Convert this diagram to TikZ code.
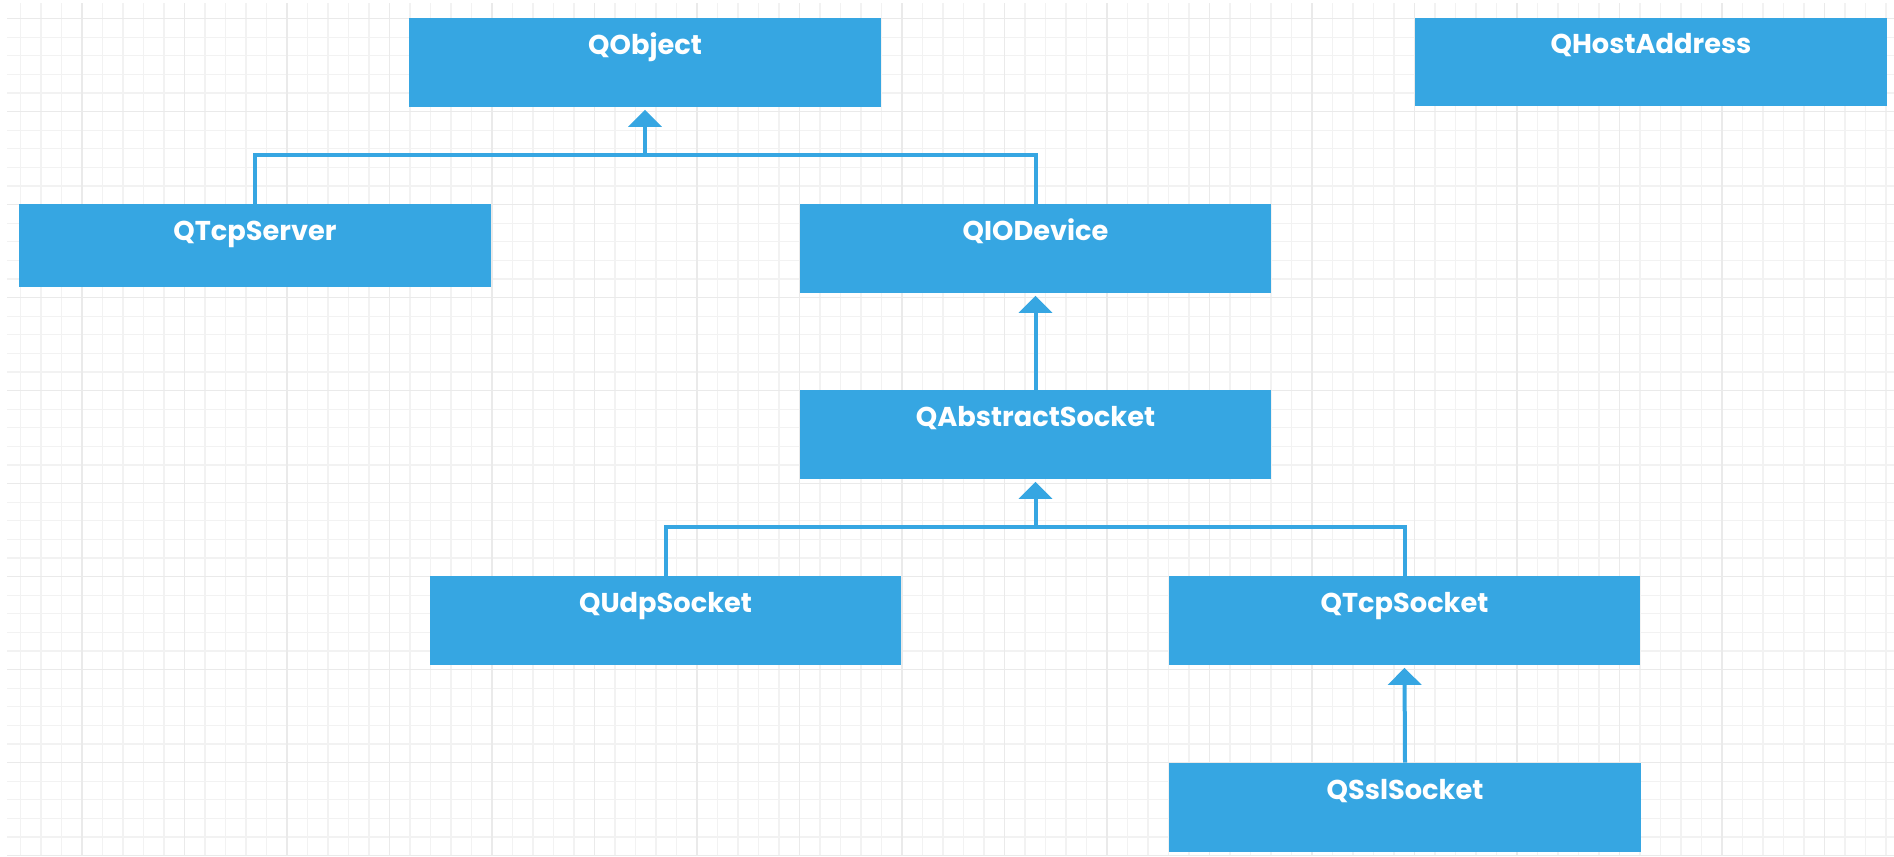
\documentclass[tikz,border=0pt]{standalone}
\usepackage{fontspec}
\setsansfont{Poppins}
\usetikzlibrary{arrows.meta}

\definecolor{qtblue}{RGB}{54,166,226}
\definecolor{gridgray}{RGB}{242,242,242}
\definecolor{gridmajor}{RGB}{234,234,234}

\tikzset{
	cls/.style={fill=qtblue, text=white, inner sep=0pt, minimum width=9.44cm,
		font=\sffamily\bfseries\fontsize{15.5}{17}\selectfont,
		text height=0.72cm, text depth=1.06cm},
	clsshort/.style={cls, text depth=0.94cm},
	link/.style={draw=qtblue, line width=0.08cm},
	inherit/.style={link, -{Triangle[length=0.34cm, width=0.66cm]}, shorten >=0.05cm},
	gridline/.style={draw=gridgray, line width=0.6pt},
	gridbold/.style={draw=gridmajor, line width=0.7pt}
}

\begin{document}
\begin{tikzpicture}[x=0.02cm, y=-0.02cm]
			%%%%% START %%%%%
			
			\useasboundingbox (0, 0) rectangle (1894, 856);
			\fill[white] (0, 0) rectangle (1894, 856);
			
			% background grid
			\foreach \k in {1,...,92}
				\draw[gridline] (20.5*\k, 3) -- (20.5*\k, 856);
			\foreach \k in {1,...,46}
				\draw[gridline] (7, 18.6*\k) -- (1894, 18.6*\k);
			\foreach \k in {4,9,...,89}
				\draw[gridbold] (20.5*\k, 3) -- (20.5*\k, 856);
			\foreach \k in {1,6,...,46}
				\draw[gridbold] (7, 18.6*\k) -- (1894, 18.6*\k);
			
			% classes
			\node[cls] (qobject) at (645, 62.5) {QObject};
			\node[cls] (qhostaddress) at (1651, 62) {QHostAddress};
			\node[clsshort] (qtcpserver) at (255, 245.5) {QTcpServer};
			\node[cls] (qiodevice) at (1035.5, 248.5) {QIODevice};
			\node[cls] (qabstractsocket) at (1035.5, 434.5) {QAbstractSocket};
			\node[cls] (qudpsocket) at (665.5, 620.5) {QUdpSocket};
			\node[cls] (qtcpsocket) at (1404.5, 620.5) {QTcpSocket};
			\node[cls] (qsslsocket) at (1405, 807.5) {QSslSocket};
			
			% inheritance
			\coordinate (objjoin) at (645, 155);
			\coordinate (sockjoin) at (1035.5, 527);
			
			\draw[link] (qtcpserver.north) |- (objjoin);
			\draw[link] (qiodevice.north) |- (objjoin);
			\draw[inherit] (objjoin) -- (qobject.south);
			
			\draw[inherit] (qabstractsocket.north) -- (qiodevice.south);
			
			\draw[link] (qudpsocket.north) |- (sockjoin);
			\draw[link] (qtcpsocket.north) |- (sockjoin);
			\draw[inherit] (sockjoin) -- (qabstractsocket.south);
			
			\draw[inherit] (qsslsocket.north) -- (qtcpsocket.south);
			
			%%%%% END %%%%%
\end{tikzpicture}
\end{document}
